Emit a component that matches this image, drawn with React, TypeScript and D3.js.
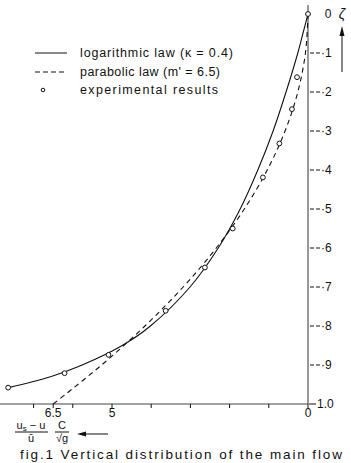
import React from "react";
import * as d3 from "d3";

// Logarithmic law curve (κ = 0.4): ζ and (us-u)/ū·C/√g
const logZeta = [0, -0.05, -0.1, -0.2, -0.3, -0.4, -0.5, -0.6, -0.7, -0.8, -0.85, -0.9, -0.93, -0.958];
const logX = [0, 0.13, 0.26, 0.56, 0.89, 1.28, 1.73, 2.29, 3.01, 4.02, 4.74, 5.76, 6.57, 7.65];

// Parabolic law curve (m' = 6.5)
const parZeta = [0, -0.1, -0.2, -0.3, -0.4, -0.5, -0.6, -0.7, -0.8, -0.9, -1.0];
const parX = [0, 0.065, 0.26, 0.585, 1.04, 1.625, 2.34, 3.185, 4.16, 5.265, 6.5];

// Experimental results
const expZeta = [0, -0.162, -0.244, -0.332, -0.419, -0.55, -0.65, -0.761, -0.874, -0.921, -0.958];
const expX = [0, 0.28, 0.41, 0.73, 1.15, 1.92, 2.63, 3.63, 5.09, 6.21, 7.65];

// Axis ticks
const yTicks = [-0.1, -0.2, -0.3, -0.4, -0.5, -0.6, -0.7, -0.8, -0.9];
const yTickLabels = ["·1", "·2", "·3", "·4", "·5", "·6", "·7", "·8", "·9"];
const xTicks = [0, 1, 2, 3, 4, 5, 6, 6.5, 7];
const xLabelTicks = [6.5, 5, 0];
const xLabelTexts = ["6.5", "5", "0"];

const legendLabels = ["logarithmic law (κ = 0.4)", "parabolic law (m' = 6.5)", "experimental results"];
const legendWidths = [153, 140, 138];
const caption = "fig.1  Vertical distribution of the main flow";

const W = 351;
const H = 463;
const FONT = "'Liberation Sans', Arial, sans-serif";

export default function App() {
  const x = d3.scaleLinear().domain([0, 7]).range([308, 33.6]);
  const y = d3.scaleLinear().domain([0, -1]).range([14, 404]);

  const line = d3
    .line<[number, number]>()
    .x((d) => x(d[0]))
    .y((d) => y(d[1]))
    .curve(d3.curveCatmullRom.alpha(0.5));

  const logPts: [number, number][] = logX.map((v, i) => [v, logZeta[i]]);
  const parPts: [number, number][] = parX.map((v, i) => [v, parZeta[i]]);

  const x0 = x(0);
  const yBottom = y(-1);

  return (
    <svg
      width={W}
      height={H}
      style={{ position: "absolute", left: 0, top: 0, background: "#fff" }}
      fontFamily={FONT}
    >
      {/* vertical axis */}
      <line x1={x0} y1={5} x2={x0} y2={yBottom} stroke="#333" strokeWidth={1} />
      {/* horizontal axis */}
      <line x1={0} y1={yBottom} x2={x0} y2={yBottom} stroke="#444" strokeWidth={1} />

      {/* y ticks */}
      {yTicks.map((t, i) => (
        <g key={"yt" + i}>
          <line x1={x0 + 2} x2={x0 + 12} y1={y(t)} y2={y(t)} stroke="#111" strokeWidth={1} strokeDasharray="4,2" />
          <text x={x0 + 13} y={y(t)} dy="0.35em" fontSize={12} fill="#111">
            {yTickLabels[i]}
          </text>
        </g>
      ))}
      <text x={x0 + 20} y={y(0)} dy="0.35em" fontSize={12} textAnchor="middle" fill="#111">
        0
      </text>
      <line x1={x0 + 1} x2={x0 + 8} y1={yBottom} y2={yBottom} stroke="#111" strokeWidth={1} />
      <text x={x0 + 9} y={yBottom} dy="0.35em" fontSize={12} fill="#111">
        1.0
      </text>

      {/* x ticks */}
      {xTicks.map((t, i) => (
        <line key={"xt" + i} x1={x(t)} x2={x(t)} y1={yBottom} y2={yBottom + 4} stroke="#111" strokeWidth={1} />
      ))}
      {xLabelTicks.map((t, i) => (
        <text key={"xl" + i} x={x(t)} y={yBottom + 13} fontSize={12} textAnchor="middle" fill="#111">
          {xLabelTexts[i]}
        </text>
      ))}

      {/* zeta label and arrow */}
      <text x={342} y={19} fontSize={14} textAnchor="middle" fill="#111" fontStyle="italic">
        ζ
      </text>
      <line x1={342} y1={72} x2={342} y2={30} stroke="#111" strokeWidth={1} />
      <path d="M342,26 L339.5,36 L344.5,36 Z" fill="#111" />

      {/* curves */}
      <path d={line(logPts) || ""} fill="none" stroke="#111" strokeWidth={1.1} />
      <path d={line(parPts) || ""} fill="none" stroke="#111" strokeWidth={1.1} strokeDasharray="5,4" />

      {/* experimental points */}
      {expX.map((v, i) => (
        <circle key={"e" + i} cx={x(v)} cy={y(expZeta[i])} r={2.4} fill="#fff" stroke="#111" strokeWidth={1} />
      ))}

      {/* legend */}
      <line x1={35} x2={67} y1={53} y2={53} stroke="#111" strokeWidth={1} />
      <text x={80} y={53} dy="0.35em" fontSize={12.5} fill="#111" textLength={legendWidths[0]} lengthAdjust="spacing">{legendLabels[0]}</text>
      <line x1={35} x2={67} y1={72} y2={72} stroke="#111" strokeWidth={1} strokeDasharray="5,3" />
      <text x={80} y={72} dy="0.35em" fontSize={12.5} fill="#111" textLength={legendWidths[1]} lengthAdjust="spacing">{legendLabels[1]}</text>
      <circle cx={43} cy={90} r={1.8} fill="#fff" stroke="#111" strokeWidth={1} />
      <text x={80} y={90} dy="0.35em" fontSize={12.5} fill="#111" textLength={legendWidths[2]} lengthAdjust="spacing">{legendLabels[2]}</text>

      {/* x axis label: (us - u)/ū · C/√g */}
      <text x={31} y={429} fontSize={11} textAnchor="middle" fill="#111">
        u<tspan fontSize={8} dy={2}>s</tspan>
        <tspan dy={-2}> − u</tspan>
      </text>
      <line x1={15} x2={48} y1={432} y2={432} stroke="#111" strokeWidth={1} />
      <text x={31} y={442} fontSize={11} textAnchor="middle" fill="#111">ū</text>
      <text x={62} y={429} fontSize={11} textAnchor="middle" fill="#111">C</text>
      <line x1={55} x2={69} y1={432} y2={432} stroke="#111" strokeWidth={1} />
      <text x={62} y={442} fontSize={11} textAnchor="middle" fill="#111">√g</text>
      <line x1={80} x2={108} y1={434} y2={434} stroke="#111" strokeWidth={1} />
      <path d="M77,434 L86,431.5 L86,436.5 Z" fill="#111" />

      {/* caption */}
      <text x={20} y={459} fontSize={13.5} fill="#111" textLength={322} lengthAdjust="spacing">{caption}</text>
    </svg>
  );
}
